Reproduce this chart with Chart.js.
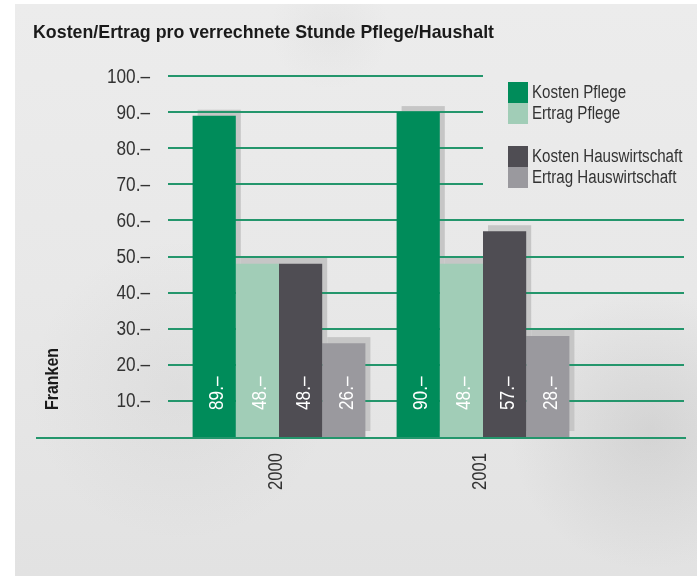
<!DOCTYPE html>
<html><head><meta charset="utf-8">
<script src="https://cdn.jsdelivr.net/npm/chart.js@4.4.0/dist/chart.umd.min.js"></script>
<style>html,body{margin:0;padding:0;background:#fff;}canvas{display:block;}</style>
</head><body>
<canvas id="c" width="699" height="576"></canvas>
<script>
// ---- data ----
const categories = ['2000', '2001'];
const seriesNames = ['Kosten Pflege', 'Ertrag Pflege', 'Kosten Hauswirtschaft', 'Ertrag Hauswirtschaft'];
const kostenPflege = [89, 90];
const ertragPflege = [48, 48];
const kostenHauswirtschaft = [48, 57];
const ertragHauswirtschaft = [26, 28];
const yTickValues = [10, 20, 30, 40, 50, 60, 70, 80, 90, 100];
const chartTitle = 'Kosten/Ertrag pro verrechnete Stunde Pflege/Haushalt';
const yAxisTitle = 'Franken';
const valueSuffix = '.–';

// ---- style ----
const FONT = "'Liberation Sans', Arial, sans-serif";
const colors = ['#008c5a', '#a1cdb7', '#4f4d53', '#9a999e'];
const gridColor = 'rgb(36,150,108)';
const shadowColor = '#c6c6c6';
const textColor = '#333333';

// draw horizontally condensed text (optionally rotated -90deg)
function condText(ctx, text, x, y, font, sx, align, baseline, rotate, color) {
  ctx.save();
  ctx.translate(x, y);
  if (rotate) ctx.rotate(-Math.PI / 2);
  ctx.scale(sx, 1);
  ctx.font = font;
  ctx.fillStyle = color;
  ctx.textAlign = align;
  ctx.textBaseline = baseline;
  ctx.fillText(text, 0, 0);
  ctx.restore();
}

const bgPlugin = {
  id: 'bg',
  beforeDraw(chart) {
    const ctx = chart.ctx;
    ctx.save();
    ctx.fillStyle = '#ffffff';
    ctx.fillRect(0, 0, chart.width, chart.height);
    const g = ctx.createLinearGradient(0, 4, 0, 576);
    g.addColorStop(0, '#ececec');
    g.addColorStop(0.5, '#e8e8e8');
    g.addColorStop(1, '#e2e2e2');
    ctx.fillStyle = g;
    ctx.fillRect(15, 4, 682, 572);
    const blob = (x, y, r, a) => {
      const rg = ctx.createRadialGradient(x, y, 0, x, y, r);
      rg.addColorStop(0, 'rgba(150,150,150,' + a + ')');
      rg.addColorStop(1, 'rgba(150,150,150,0)');
      ctx.fillStyle = rg;
      ctx.fillRect(15, 4, 682, 572);
    };
    blob(650, 430, 140, 0.22);
    blob(180, 390, 150, 0.10);
    blob(330, 30, 60, 0.07);
    ctx.restore();

    // title (fitted to the reference width)
    ctx.save();
    ctx.font = "bold 19px " + FONT;
    const tw = ctx.measureText(chartTitle).width;
    ctx.restore();
    condText(ctx, chartTitle, 33, 38, "bold 19px " + FONT, 461 / tw, 'left', 'alphabetic', false, '#1a1a1a');

    // y-axis title
    condText(ctx, yAxisTitle, 58, 410, "bold 19px " + FONT, 0.84, 'left', 'alphabetic', true, '#1a1a1a');

    // legend
    const rows = [82, 103, 146, 167];
    chart.data.datasets.forEach((ds, i) => {
      ctx.fillStyle = ds.backgroundColor;
      ctx.fillRect(508, rows[i], 20, 21);
      condText(ctx, ds.label, 532, rows[i] + 11.5, "18px " + FONT, 0.84, 'left', 'middle', false, textColor);
    });

    // y tick labels from the y scale
    const ys = chart.scales.y;
    ys.ticks.forEach(t => {
      if (t.value === 0) return;
      condText(ctx, t.value + valueSuffix, 150, ys.getPixelForValue(t.value) + 1, "20px " + FONT, 0.86, 'right', 'middle', false, textColor);
    });

    // x tick labels from the x scale
    const xs = chart.scales.x;
    categories.forEach((c, i) => {
      condText(ctx, c, xs.getPixelForValue(i) + 3, 453, "20px " + FONT, 0.83, 'right', 'alphabetic', true, textColor);
    });
  },
  beforeDatasetsDraw(chart) {
    const ctx = chart.ctx;
    ctx.save();
    // shadows
    ctx.fillStyle = shadowColor;
    chart.data.datasets.forEach((ds, i) => {
      chart.getDatasetMeta(i).data.forEach(bar => {
        const p = bar.getProps(['x', 'y', 'base', 'width'], true);
        ctx.fillRect(p.x - p.width / 2 + 5, p.y - 6, p.width, p.base - p.y);
      });
    });
    // gridlines
    const ys = chart.scales.y;
    ctx.strokeStyle = gridColor;
    ctx.lineWidth = 2;
    yTickValues.forEach(v => {
      const y = Math.round(ys.getPixelForValue(v));
      ctx.beginPath();
      ctx.moveTo(168, y);
      ctx.lineTo(v >= 70 ? 483 : 684, y);
      ctx.stroke();
    });
    ctx.restore();
  },
  afterDatasetsDraw(chart) {
    const ctx = chart.ctx;
    ctx.save();
    const y0 = Math.round(chart.scales.y.getPixelForValue(0)) + 1;
    ctx.strokeStyle = gridColor;
    ctx.lineWidth = 2;
    ctx.beginPath();
    ctx.moveTo(36, y0);
    ctx.lineTo(686, y0);
    ctx.stroke();
    ctx.restore();
    // value labels
    chart.data.datasets.forEach((ds, i) => {
      chart.getDatasetMeta(i).data.forEach((bar, j) => {
        const p = bar.getProps(['x'], true);
        condText(ctx, ds.data[j] + valueSuffix, p.x + 9, 410, "20px " + FONT, 0.86, 'left', 'alphabetic', true, '#ffffff');
      });
    });
  }
};

const seriesData = [kostenPflege, ertragPflege, kostenHauswirtschaft, ertragHauswirtschaft];

new Chart(document.getElementById('c'), {
  type: 'bar',
  data: {
    labels: categories,
    datasets: seriesNames.map((n, i) => ({
      label: n,
      data: seriesData[i],
      backgroundColor: colors[i],
      borderWidth: 0,
      barPercentage: 1.0,
      categoryPercentage: 0.847
    }))
  },
  options: {
    responsive: false,
    animation: false,
    devicePixelRatio: 1,
    layout: { padding: { left: 0, right: 114, top: 76, bottom: 0 } },
    plugins: { legend: { display: false }, title: { display: false }, tooltip: { enabled: false } },
    scales: {
      x: {
        grid: { display: false },
        border: { display: false },
        ticks: { display: false },
        afterFit(s) { s.height = 139; }
      },
      y: {
        min: 0, max: 100,
        grid: { display: false },
        border: { display: false },
        ticks: { display: false, stepSize: 10 },
        afterFit(s) { s.width = 177; }
      }
    }
  },
  plugins: [bgPlugin]
});
</script>
</body></html>
